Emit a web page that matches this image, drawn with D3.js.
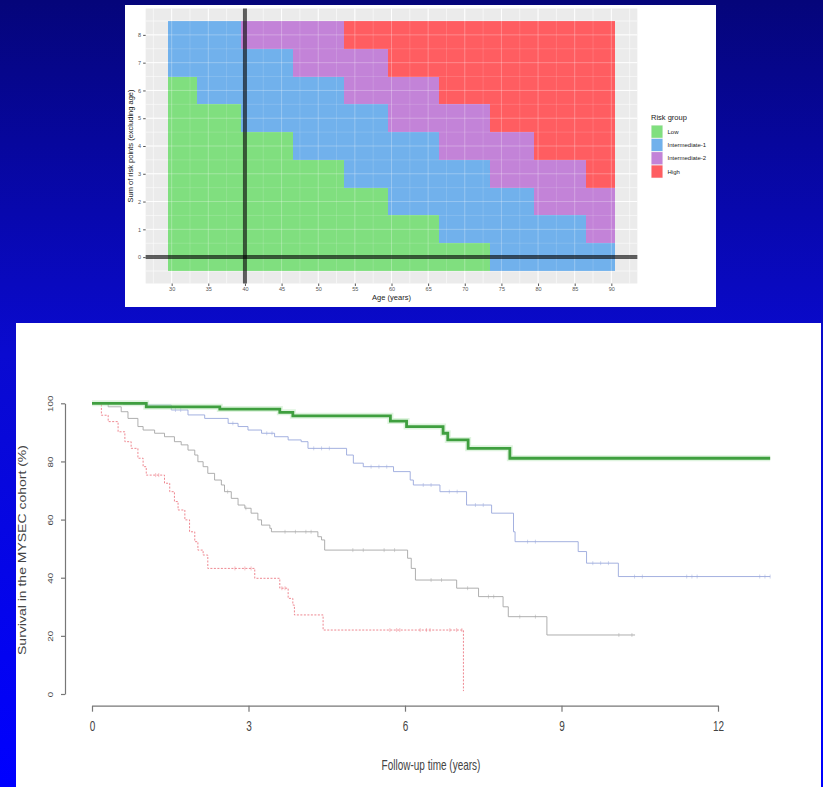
<!DOCTYPE html>
<html>
<head>
<meta charset="utf-8">
<script src="https://cdn.jsdelivr.net/npm/d3@7"></script>
<style>
  html, body { margin: 0; padding: 0; }
  body { width: 823px; height: 787px; overflow: hidden; }
  svg { display: block; font-family: "Liberation Sans", Arial, sans-serif; }
</style>
</head>
<body>
<svg id="chart" width="823" height="787"></svg>
<script>
// ---------- top panel: risk group by age / points ----------
var riskPoints = [0, 1, 2, 3, 4, 5, 6, 7, 8];
var ageTicks = [30, 35, 40, 45, 50, 55, 60, 65, 70, 75, 80, 85, 90];
// first age at which a row switches to the next group (91 = not reached)
var int1Start = [74, 67, 60, 54, 47, 40, 34, 30, 30];
var int2Start = [91, 87, 80, 74, 67, 60, 54, 47, 40];
var highStart = [91, 91, 91, 87, 80, 74, 67, 60, 54];
var riskGroups = ["Low", "Intermediate-1", "Intermediate-2", "High"];

// ---------- bottom panel: survival curves ----------
var followTicks = [0, 3, 6, 9, 12];
var survTicks = [0, 20, 40, 60, 80, 100];

var lowTime = [0, 1.04, 2.45, 3.60, 3.85, 5.72, 6.03, 6.73, 6.82, 7.21, 8.01, 13.0];
var lowSurv = [100, 98.8, 98.0, 96.9, 95.7, 93.9, 92.0, 89.7, 87.4, 84.5, 81.1, 81.1];

var int1Time = [0, 0.6, 1.07, 1.52, 1.84, 2.16, 2.61, 2.80, 2.99, 3.25, 3.50, 3.76, 4.01, 4.14, 4.88, 5.01, 5.20, 5.78, 6.10, 6.16, 6.67, 7.18, 7.66, 8.08, 8.11, 9.32, 9.48, 10.09, 13.0];
var int1Surv = [100, 99.7, 99.4, 97.7, 96.0, 94.8, 93.1, 92.0, 90.8, 89.7, 88.5, 87.4, 86.8, 84.5, 82.2, 79.4, 78.2, 76.5, 73.6, 71.9, 69.6, 65.0, 62.2, 55.8, 52.4, 49.0, 45.0, 40.4, 40.4];
var int1Cens = [1.6, 1.7, 2.7, 3.35, 3.45, 4.25, 4.4, 4.55, 5.35, 5.5, 5.65, 6.35, 6.5, 6.85, 7.0, 7.35, 7.5, 8.35, 8.5, 9.6, 9.75, 9.9, 10.4, 10.55, 11.4, 11.5, 11.6, 12.8, 12.9, 13.0];

var int2Time = [0, 0.31, 0.56, 0.69, 0.88, 0.98, 1.20, 1.39, 1.58, 1.71, 1.84, 1.97, 2.03, 2.13, 2.22, 2.35, 2.48, 2.54, 2.67, 2.80, 2.93, 3.05, 3.18, 3.25, 3.41, 3.44, 4.33, 4.40, 4.46, 6.05, 6.12, 6.20, 6.99, 7.41, 7.88, 7.98, 8.72, 10.41];
var int2Surv = [100, 98.8, 97.1, 94.8, 92.0, 90.8, 89.7, 88.5, 86.8, 85.7, 83.9, 82.2, 79.9, 78.2, 75.9, 73.6, 71.9, 69.6, 67.3, 65.0, 63.9, 62.2, 59.9, 58.1, 57.0, 55.8, 54.1, 53.0, 49.5, 46.7, 43.2, 39.2, 36.4, 33.5, 30.0, 26.6, 20.3, 20.3];
var int2Cens = [2.6, 2.95, 3.7, 3.9, 4.1, 4.2, 5.0, 5.2, 5.6, 5.8, 6.5, 6.7, 7.2, 7.6, 7.7, 8.2, 8.5, 10.1, 10.35];

var highTime = [0, 0.18, 0.31, 0.50, 0.63, 0.75, 0.88, 0.98, 1.04, 1.39, 1.49, 1.58, 1.65, 1.78, 1.87, 1.97, 2.03, 2.13, 2.22, 3.12, 3.60, 3.76, 3.85, 3.88, 4.43, 7.12];
var highSurv = [100, 95.9, 93.7, 90.2, 86.8, 84.5, 81.1, 78.2, 75.3, 72.5, 69.6, 66.2, 63.3, 59.9, 55.8, 52.4, 49.5, 47.8, 43.2, 39.8, 36.4, 32.9, 30.6, 27.2, 22.0, 1.0];
var highCens = [1.22, 1.28, 2.74, 2.93, 3.05, 3.64, 3.7, 5.71, 5.84, 5.9, 6.29, 6.41, 6.48, 6.86, 6.99, 7.09];

var tileColors = ["#80df7f", "#71b1ec", "#c383d8", "#ff5d61"];

var svg = d3.select("#chart");

// background
var grad = svg.append("defs").append("linearGradient")
    .attr("id", "bg").attr("x1", 0).attr("y1", 0).attr("x2", 0).attr("y2", 1);
grad.append("stop").attr("offset", 0).attr("stop-color", "#05057a");
grad.append("stop").attr("offset", 0.45).attr("stop-color", "#0a0ad0");
grad.append("stop").attr("offset", 1).attr("stop-color", "#0000ff");
svg.append("rect").attr("width", 823).attr("height", 787).attr("fill", "url(#bg)");

svg.append("rect").attr("x", 125).attr("y", 5).attr("width", 591).attr("height", 302).attr("fill", "#fff");
svg.append("rect").attr("x", 16).attr("y", 323).attr("width", 805).attr("height", 464).attr("fill", "#fff");

// ================= top chart =================
var tx = d3.scaleLinear().domain([29.5, 90.5]).range([168, 615]);
var ty = d3.scaleLinear().domain([-0.5, 8.5]).range([271, 21]);
var xPad = 61 * 0.05, yPad = 9 * 0.05;
var px0 = tx(29.5 - xPad), px1 = tx(90.5 + xPad);
var py0 = ty(8.5 + yPad), py1 = ty(-0.5 - yPad);

var topG = svg.append("g");
topG.append("rect")
    .attr("x", px0).attr("y", py0)
    .attr("width", px1 - px0).attr("height", py1 - py0)
    .attr("fill", "#ebebeb");

var minorX = d3.pairs(ageTicks).map(function(p) { return (p[0] + p[1]) / 2; }).concat([27.5, 92.5]);
var minorY = d3.pairs(riskPoints).map(function(p) { return (p[0] + p[1]) / 2; }).concat([-0.5, 8.5]);

function drawGrid(g, opacity) {
    g.selectAll(null).data(minorX).enter().append("line")
        .attr("x1", tx).attr("x2", tx).attr("y1", py0).attr("y2", py1)
        .attr("stroke", "#fff").attr("stroke-width", 0.5).attr("stroke-opacity", opacity);
    g.selectAll(null).data(minorY).enter().append("line")
        .attr("y1", ty).attr("y2", ty).attr("x1", px0).attr("x2", px1)
        .attr("stroke", "#fff").attr("stroke-width", 0.5).attr("stroke-opacity", opacity);
    g.selectAll(null).data(ageTicks).enter().append("line")
        .attr("x1", tx).attr("x2", tx).attr("y1", py0).attr("y2", py1)
        .attr("stroke", "#fff").attr("stroke-width", 1).attr("stroke-opacity", opacity);
    g.selectAll(null).data(riskPoints).enter().append("line")
        .attr("y1", ty).attr("y2", ty).attr("x1", px0).attr("x2", px1)
        .attr("stroke", "#fff").attr("stroke-width", 1).attr("stroke-opacity", opacity);
}
drawGrid(topG.append("g"), 1);

// build row segments from the switch ages
var segments = [];
riskPoints.forEach(function(p, i) {
    var edges = [29.5, int1Start[i] - 0.5, int2Start[i] - 0.5, highStart[i] - 0.5, 90.5];
    for (var g = 0; g < 4; g++) {
        if (edges[g + 1] > edges[g]) {
            segments.push({ p: p, a0: edges[g], a1: edges[g + 1], group: g });
        }
    }
});

topG.append("g").selectAll("rect")
    .data(segments)
    .enter().append("rect")
    .attr("x", function(d) { return tx(d.a0); })
    .attr("width", function(d) { return tx(d.a1) - tx(d.a0); })
    .attr("y", function(d) { return ty(d.p + 0.5); })
    .attr("height", function(d) { return ty(d.p - 0.5) - ty(d.p + 0.5); })
    .attr("fill", function(d) { return tileColors[d.group]; })
    .attr("shape-rendering", "crispEdges");

// grid seen faintly through the tiles
drawGrid(topG.append("g"), 0.28);

// reference lines: age 40 and 0 points
topG.append("line")
    .attr("x1", tx(40)).attr("x2", tx(40)).attr("y1", py0).attr("y2", py1)
    .attr("stroke", "#000").attr("stroke-opacity", 0.62).attr("stroke-width", 4);
topG.append("line")
    .attr("x1", px0).attr("x2", px1).attr("y1", ty(0)).attr("y2", ty(0))
    .attr("stroke", "#000").attr("stroke-opacity", 0.62).attr("stroke-width", 4);

var txAxis = topG.append("g")
    .attr("transform", "translate(0," + py1 + ")")
    .call(d3.axisBottom(tx).tickValues(ageTicks).tickSize(2.5).tickPadding(1.5).tickSizeOuter(0));
var tyAxis = topG.append("g")
    .attr("transform", "translate(" + px0 + ",0)")
    .call(d3.axisLeft(ty).tickValues(riskPoints).tickSize(2.5).tickPadding(2).tickSizeOuter(0));
[txAxis, tyAxis].forEach(function(a) {
    a.select(".domain").remove();
    a.selectAll(".tick line").attr("stroke", "#555");
    a.selectAll(".tick text").attr("fill", "#555").style("font-size", "5.5px").style("font-family", "Liberation Sans, Arial, sans-serif");
});

topG.append("text")
    .attr("x", (px0 + px1) / 2).attr("y", 299.5)
    .attr("text-anchor", "middle")
    .attr("fill", "#222").style("font-size", "7.5px")
    .text("Age (years)");
topG.append("text")
    .attr("transform", "translate(133," + ((py0 + py1) / 2) + ") rotate(-90)")
    .attr("text-anchor", "middle")
    .attr("fill", "#222").style("font-size", "7.5px")
    .text("Sum of risk points (excluding age)");

// legend
var leg = topG.append("g").attr("transform", "translate(651,112)");
leg.append("text").attr("x", 0).attr("y", 8).attr("fill", "#222").style("font-size", "7.5px").text("Risk group");
var keys = leg.selectAll("g.key").data(riskGroups).enter().append("g")
    .attr("class", "key")
    .attr("transform", function(d, i) { return "translate(0," + (13 + i * 13.3) + ")"; });
keys.append("rect").attr("width", 12).attr("height", 13.3).attr("fill", "#f2f2f2");
keys.append("rect").attr("x", 0.5).attr("y", 0.5).attr("width", 11).attr("height", 12.3)
    .attr("fill", function(d, i) { return tileColors[i]; });
keys.append("text").attr("x", 16.5).attr("y", 8.8)
    .attr("fill", "#222").style("font-size", "6px")
    .text(function(d) { return d; });

// ================= bottom chart =================
var bx = d3.scaleLinear().domain([0, 12]).range([92, 718]);
var by = d3.scaleLinear().domain([0, 100]).range([694, 403.3]);
var botG = svg.append("g");

var xAxis = botG.append("g")
    .attr("transform", "translate(0,705.7)")
    .call(d3.axisBottom(bx).tickValues(followTicks).tickSize(6).tickSizeOuter(0));
xAxis.selectAll(".tick text")
    .attr("y", 0).attr("dy", null)
    .attr("dominant-baseline", "middle")
    .attr("transform", "translate(0,21.5) scale(1,1.5)")
    .attr("fill", "#444").style("font-size", "10px").style("font-family", "Liberation Sans, Arial, sans-serif");

var yAxis = botG.append("g")
    .attr("transform", "translate(65,0)")
    .call(d3.axisLeft(by).tickValues(survTicks).tickSize(4).tickSizeOuter(0));
yAxis.selectAll(".tick text")
    .attr("x", 0).attr("dy", null)
    .attr("text-anchor", "middle")
    .attr("dominant-baseline", "middle")
    .attr("transform", "translate(-14,0) scale(1,1.4) rotate(-90)")
    .attr("fill", "#444").style("font-size", "7px").style("font-family", "Liberation Sans, Arial, sans-serif");

[xAxis, yAxis].forEach(function(a) {
    a.select(".domain").attr("stroke", "#777").attr("stroke-width", 1.2);
    a.selectAll(".tick line").attr("stroke", "#777").attr("stroke-width", 1.2);
});

botG.append("text")
    .attr("text-anchor", "middle").attr("dominant-baseline", "middle")
    .attr("transform", "translate(431,766) scale(1,1.4)")
    .attr("fill", "#444").style("font-size", "10px")
    .text("Follow-up time (years)");
botG.append("text")
    .attr("text-anchor", "middle").attr("dominant-baseline", "middle")
    .attr("transform", "translate(23,550) scale(1,1.4) rotate(-90)")
    .attr("fill", "#444").style("font-size", "10px")
    .text("Survival in the MYSEC cohort (%)");

var curves = [
    { time: highTime, surv: highSurv, cens: highCens, color: "#ec7a84", width: 0.9, dash: "2,1.5" },
    { time: int2Time, surv: int2Surv, cens: int2Cens, color: "#a6a6a6", width: 0.9, dash: null },
    { time: int1Time, surv: int1Surv, cens: int1Cens, color: "#9aa8dc", width: 0.9, dash: null },
    { time: lowTime, surv: lowSurv, cens: [], color: "#3f9f3f", width: 2.8, dash: null }
];

var step = d3.line()
    .x(function(d) { return bx(d[0]); })
    .y(function(d) { return by(d[1]); })
    .curve(d3.curveStepAfter);
var bis = d3.bisector(function(d) { return d; }).right;

curves.forEach(function(c) {
    var pts = c.time.map(function(t, i) { return [t, c.surv[i]]; });
    if (c.width > 2) {
        botG.append("path").attr("d", step(pts))
            .attr("fill", "none").attr("stroke", "#b9e6b9").attr("stroke-width", 6).attr("stroke-opacity", 0.45);
    }
    botG.append("path").attr("d", step(pts))
        .attr("fill", "none").attr("stroke", c.color)
        .attr("stroke-width", c.width)
        .attr("stroke-dasharray", c.dash);
    botG.append("g").selectAll("line")
        .data(c.cens).enter().append("line")
        .attr("x1", function(t) { return bx(t); })
        .attr("x2", function(t) { return bx(t); })
        .attr("y1", function(t) { return by(c.surv[Math.max(0, bis(c.time, t) - 1)]) - 2; })
        .attr("y2", function(t) { return by(c.surv[Math.max(0, bis(c.time, t) - 1)]) + 2; })
        .attr("stroke", c.color).attr("stroke-width", 0.6).attr("stroke-opacity", 0.8);
});
</script>
</body>
</html>
